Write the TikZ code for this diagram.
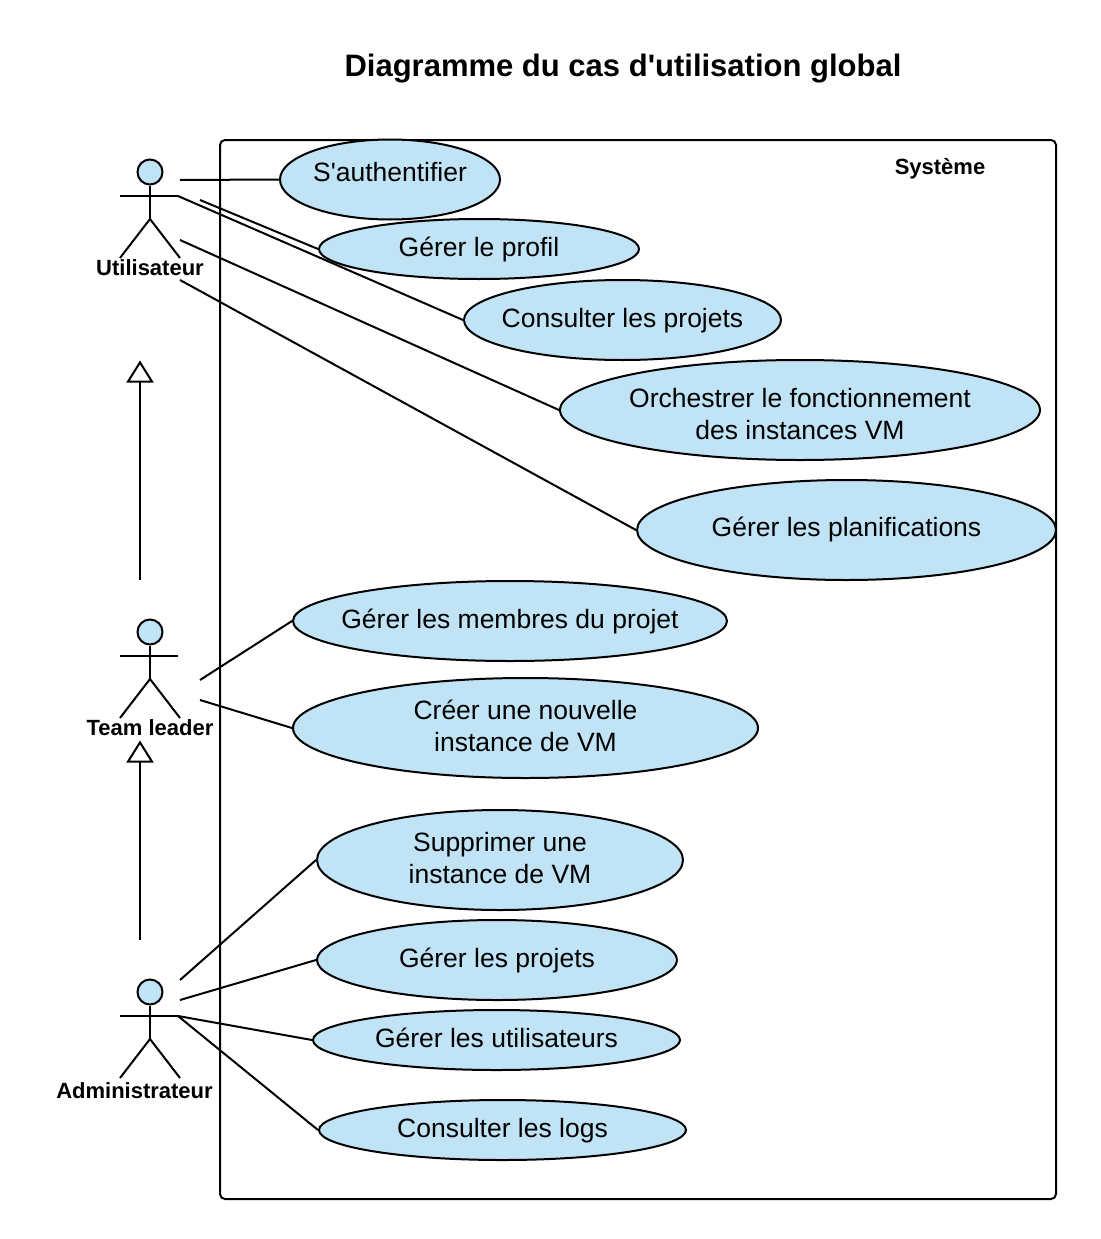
\documentclass[tikz,border=0pt]{standalone}
\usepackage{fontspec}
\newfontfamily\ucfont{Liberation Sans}
\usetikzlibrary{arrows.meta}
\usetikzlibrary{shapes.geometric}
\definecolor{ucblue}{HTML}{C0E3F6}
\newcommand{\uctext}[2]{\raisebox{#1}[0pt][0pt]{\makebox[0pt]{\begin{tabular}{@{}c@{}}#2\end{tabular}}}}
\tikzset{
  usecase/.style={draw, ellipse, fill=ucblue, inner sep=0pt,
    font=\ucfont\fontsize{26.5}{32}\selectfont},
  actorname/.style={inner sep=0pt, font=\ucfont\fontsize{22}{26}\selectfont\bfseries},
  actorhead/.style={draw, circle, fill=ucblue, inner sep=0pt, minimum size=25pt},
  generalize/.style={-{Triangle[open, length=22pt, width=27pt]}},
}
\begin{document}
\begin{tikzpicture}[x=1pt, y=-1pt, line width=2pt]
\useasboundingbox (0, 0) rectangle (1100, 1239);

\node [inner sep=0pt, font=\ucfont\fontsize{31}{36}\selectfont\bfseries] (title) at (623, 69) {Diagramme du cas d'utilisation global};

% system box
\draw [rounded corners=5pt] (220, 140) rectangle (1056, 1199);
\node [inner sep=0pt, font=\ucfont\fontsize{22}{26}\selectfont\bfseries] (systeme) at (940, 169) {Système};

% actors
\foreach \n/\y in {utilisateur/172, leader/632, admin/992} {
  \node [actorhead] (\n) at (150, \y) {};
  \draw (\n.south) -- ++(0, 33.5) coordinate (\n hip);
  \draw (120, \y+24) -- (178, \y+24) coordinate (\n arm);
  \draw (120, \y+86) -- (\n hip) -- (180, \y+86);
}
\node [actorname] (utilisateurname) at (150, 268) {Utilisateur};
\node [actorname] (leadername) at (150, 728) {Team leader};
\node [actorname] (adminname) at (134.5, 1091) {Administrateur};

% use cases
\node [usecase, minimum width=220pt, minimum height=80pt] (auth) at (390, 179.5) {\uctext{-2pt}{S'authentifier}};
\node [usecase, minimum width=320pt, minimum height=60pt] (profil) at (479, 249) {\uctext{-7pt}{Gérer le profil}};
\node [usecase, minimum width=317pt, minimum height=80pt] (consulter) at (622.5, 320) {\uctext{-7pt}{Consulter les projets}};
\node [usecase, minimum width=480pt, minimum height=100pt] (orchestrer) at (800, 410) {\uctext{-13pt}{Orchestrer le fonctionnement\\des instances VM}};
\node [usecase, minimum width=419pt, minimum height=100pt] (planif) at (846.5, 530) {\uctext{-6pt}{Gérer les planifications}};
\node [usecase, minimum width=434pt, minimum height=80pt] (membres) at (510, 621) {\uctext{-7pt}{Gérer les membres du projet}};
\node [usecase, minimum width=465pt, minimum height=100pt] (creer) at (525.5, 728) {\uctext{-7pt}{Créer une nouvelle\\instance de VM}};
\node [usecase, minimum width=366pt, minimum height=100pt] (supprimer) at (500, 860) {\uctext{-7pt}{Supprimer une\\instance de VM}};
\node [usecase, minimum width=360pt, minimum height=80pt] (projets) at (497, 960) {\uctext{-7pt}{Gérer les projets}};
\node [usecase, minimum width=367pt, minimum height=60pt] (users) at (496.5, 1040) {\uctext{-7pt}{Gérer les utilisateurs}};
\node [usecase, minimum width=367pt, minimum height=60pt] (logs) at (502.5, 1130) {\uctext{-7pt}{Consulter les logs}};

% free ends
\coordinate (a) at (180, 180);
\coordinate (b) at (200, 200);
\coordinate (c) at (180, 240);
\coordinate (d) at (180, 280);
\coordinate (e) at (200, 680);
\coordinate (f) at (200, 700);
\coordinate (g) at (180, 980);
\coordinate (h) at (180, 1000);
\coordinate (i) at (140, 580);
\coordinate (j) at (140, 360.5);
\coordinate (k) at (140, 940);
\coordinate (l) at (140, 740.5);

% connectors
\draw (a) -- (auth.west);
\draw (b) -- (profil.west);
\draw (utilisateurarm) -- (consulter.west);
\draw (c) -- (orchestrer.west);
\draw (d) -- (planif.west);
\draw (e) -- (membres.west);
\draw (f) -- (creer.west);
\draw (g) -- (supprimer.west);
\draw (h) -- (projets.west);
\draw (adminarm) -- (users.west);
\draw (adminarm) -- (logs.west);
\draw [generalize] (i) -- (j);
\draw [generalize] (k) -- (l);
\end{tikzpicture}
\end{document}
